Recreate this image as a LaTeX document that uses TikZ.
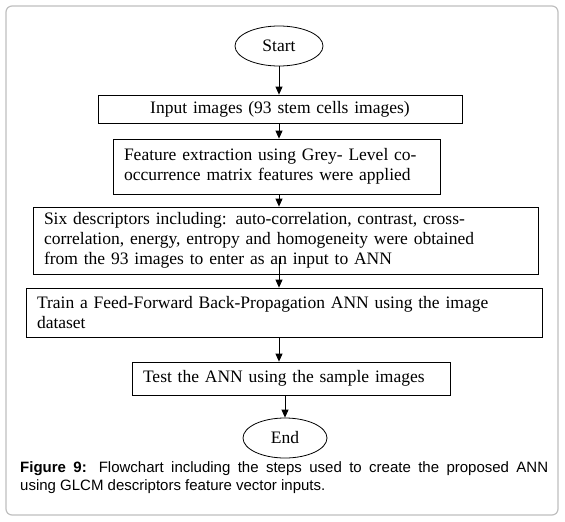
\documentclass[tikz,border=0pt]{standalone}
\usepackage{fontspec}
\setmainfont{Liberation Serif}
\newfontfamily\capfont{Liberation Sans}
\usetikzlibrary{arrows.meta,calc,shapes.geometric}
\begin{document}
\begin{tikzpicture}[x=1pt,y=-1pt,
  every node/.style={font=\fontsize{17.5}{20}\selectfont},
  term/.style={draw,line width=0.8pt,ellipse,minimum width=88pt,minimum height=40pt,inner sep=0pt},
  stepbox/.style={draw,line width=0.8pt,rectangle,inner xsep=11pt,inner ysep=0pt,align=left},
  conn/.style={line width=0.8pt,-{Triangle[length=8pt,width=7pt]}},
  frame/.style={draw=black!25,line width=1.2pt,rounded corners=6pt}]
\useasboundingbox (0,0) rectangle (565,522);
\draw[frame] (6,6) rectangle (558,515);
\node[term] (s) at (279,46) {Start};
\node[stepbox,align=center,minimum width=364pt,minimum height=28pt,text width=342pt] (b1) at (280,109) {Input images (93 stem cells images)};
\node[stepbox,minimum width=327pt,minimum height=55pt,text width=305pt] (b2) at (276.5,166.5) {Feature extraction using Grey- Level co-\\occurrence matrix features were applied};
\node[stepbox,minimum width=505pt,minimum height=67pt,text width=483pt] (b3) at (285.5,240.5) {Six descriptors including: auto-correlation, contrast, cross-\\correlation, energy, entropy and homogeneity were obtained\\from the 93 images to enter as an input to ANN};
\node[stepbox,minimum width=516pt,minimum height=49pt,text width=494pt] (b4) at (284,312.5) {Train a Feed-Forward Back-Propagation ANN using the image\\dataset};
\node[stepbox,minimum width=318pt,minimum height=33pt,text width=296pt] (b5) at (291,378.5) {Test the ANN using the sample images};
\node[term,minimum width=84pt] (e) at (285,438) {End};
\draw[conn] (s.south) -- (s.south |- b1.north);
\draw[conn] (b1.south -| s) -- (b2.north -| s);
\draw[conn] (b2.south -| s) -- (b3.north -| s);
\draw[conn] ($(b3.south -| s)+(0,-16)$) -- (b4.north -| s);
\draw[conn] (b4.south -| s) -- (b5.north -| s);
\draw[conn] (b5.south -| e) -- (e.north);
\node[anchor=north west,inner sep=0pt,text width=528pt,align=justify,font=\capfont\fontsize{15}{18.5}\selectfont] (cap) at (20,461) {\textbf{Figure 9:} Flowchart including the steps used to create the proposed ANN\linebreak using GLCM descriptors feature vector inputs.};
\end{tikzpicture}
\end{document}
